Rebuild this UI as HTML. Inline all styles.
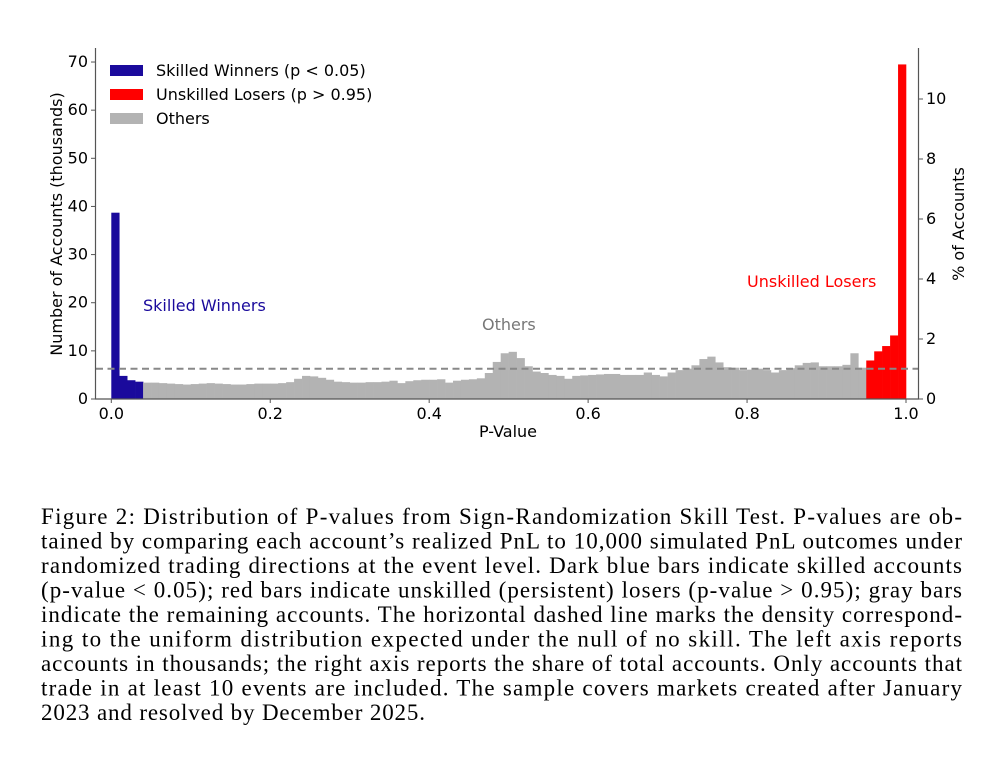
<!DOCTYPE html>
<html><head><meta charset="utf-8"><style>
body{margin:0;background:#fff;}
svg{display:block;}
.t{font-family:"DejaVu Sans","Liberation Sans",sans-serif;font-size:16px;fill:#000;}
.c{font-family:"Liberation Serif",serif;font-size:23px;fill:#000;}
</style></head><body>
<svg id="s" width="1001" height="779" xmlns="http://www.w3.org/2000/svg">
<g id="bars"></g>
<line x1="96" y1="368.7" x2="918" y2="368.7" stroke="#888" stroke-width="2" stroke-dasharray="7,4.5"/>
<line x1="95.5" y1="48" x2="95.5" y2="399" stroke="#555" stroke-width="1.2"/>
<line x1="918.5" y1="48" x2="918.5" y2="399" stroke="#555" stroke-width="1.2"/>
<line x1="95" y1="399" x2="919" y2="399" stroke="#555" stroke-width="1.2"/>
<g id="ticks" class="t"></g>
<text class="t" transform="translate(62,224) rotate(-90)" text-anchor="middle">Number of Accounts (thousands)</text>
<text class="t" transform="translate(964,224) rotate(-90)" text-anchor="middle">% of Accounts</text>
<text class="t" x="508" y="437" text-anchor="middle">P-Value</text>
<rect x="110" y="65" width="33" height="11" fill="#1a0a9c"/>
<rect x="110" y="89" width="33" height="11" fill="#ff0000"/>
<rect x="110" y="113" width="33" height="11" fill="#b3b3b3"/>
<text class="t" x="156" y="76">Skilled Winners (p &lt; 0.05)</text>
<text class="t" x="156" y="100">Unskilled Losers (p &gt; 0.95)</text>
<text class="t" x="156" y="124">Others</text>
<text class="t" x="143" y="311" style="fill:#1a0a9c">Skilled Winners</text>
<text class="t" x="482" y="330" style="fill:#777">Others</text>
<text class="t" x="747" y="287" style="fill:#ff0000">Unskilled Losers</text>
<g class="c">
<text x="41" y="524" textLength="921" lengthAdjust="spacing">Figure 2:  Distribution of P-values from Sign-Randomization Skill Test.  P-values are ob-</text>
<text x="41" y="548.5" textLength="921" lengthAdjust="spacing">tained by comparing each account’s realized PnL to 10,000 simulated PnL outcomes under</text>
<text x="41" y="573" textLength="921" lengthAdjust="spacing">randomized trading directions at the event level.  Dark blue bars indicate skilled accounts</text>
<text x="41" y="597.5" textLength="921" lengthAdjust="spacing">(p-value &lt; 0.05); red bars indicate unskilled (persistent) losers (p-value &gt; 0.95); gray bars</text>
<text x="41" y="622" textLength="921" lengthAdjust="spacing">indicate the remaining accounts.  The horizontal dashed line marks the density correspond-</text>
<text x="41" y="646.5" textLength="921" lengthAdjust="spacing">ing to the uniform distribution expected under the null of no skill.  The left axis reports</text>
<text x="41" y="671" textLength="921" lengthAdjust="spacing">accounts in thousands; the right axis reports the share of total accounts.  Only accounts that</text>
<text x="41" y="695.5" textLength="921" lengthAdjust="spacing">trade in at least 10 events are included.  The sample covers markets created after January</text>
<text x="41" y="720" textLength="384" lengthAdjust="spacing">2023 and resolved by December 2025.</text>
</g>
</svg>
<script>
var v=[38.7,4.8,3.9,3.6,3.4,3.4,3.3,3.2,3.1,3.0, 3.1,3.2,3.3,3.2,3.1,3.0,3.0,3.1,3.2,3.2, 3.2,3.3,3.5,4.2,4.8,4.7,4.4,4.0,3.6,3.5, 3.4,3.4,3.5,3.5,3.6,3.8,3.3,3.7,3.9,4.0, 4.0,4.1,3.4,3.8,4.0,4.1,4.3,5.4,7.7,
9.5,9.8,8.5,6.8,5.7,5.4,5.0,4.8,4.2,4.8, 4.9,5.0,5.1,5.2,5.2,5.0,5.0,5.0,5.5,5.0, 4.7,5.5,6.0,6.3,7.0,8.3,8.8,7.6,6.6,6.5, 6.0,6.1,6.3,6.0,5.5,6.0,6.4,7.0,7.5,7.6, 6.8,6.8,6.8,7.1,9.5];
v=v.slice(0,95);
while(v.length<95)v.push(6.5);
v=v.concat([8.0,9.9,11.0,13.2,69.5]);
var g=document.getElementById('bars'),ns="http://www.w3.org/2000/svg";
var x0=111.3,sc=794.7,y0=399,ys=4.814;
for(var i=0;i<100;i++){var r=document.createElementNS(ns,'rect');
var xa=x0+i*sc/100,xb=x0+(i+1)*sc/100,h=v[i]*ys;
r.setAttribute('x',xa);r.setAttribute('width',xb-xa+0.3);r.setAttribute('y',y0-h);r.setAttribute('height',h);
r.setAttribute('fill',i<4?'#1a0a9c':(i>=95?'#ff0000':'#b3b3b3'));g.appendChild(r);}
var t=document.getElementById('ticks');
function add(tag,a,txt){var e=document.createElementNS(ns,tag);for(var k in a)e.setAttribute(k,a[k]);if(txt!=null)e.textContent=txt;t.appendChild(e);}
for(var k=0;k<=70;k+=10){var y=y0-k*ys;add('line',{x1:91,x2:95,y1:y,y2:y,stroke:'#555'});add('text',{x:88,y:y+5,'text-anchor':'end'},k);}
for(var k=0;k<=10;k+=2){var y=y0-k*30;add('line',{x1:919,x2:923,y1:y,y2:y,stroke:'#555'});add('text',{x:926,y:y+5},k);}
for(var k=0;k<=5;k++){var x=x0+k*0.2*sc;add('line',{x1:x,x2:x,y1:399,y2:403,stroke:'#555'});add('text',{x:x,y:419,'text-anchor':'middle'},(k*0.2).toFixed(1));}
</script>
</body></html>
